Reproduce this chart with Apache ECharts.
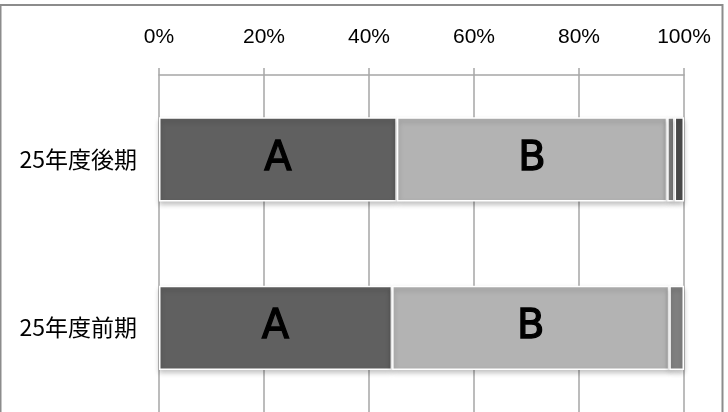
<!DOCTYPE html>
<html>
<head>
  <meta charset="utf-8" />
  <title>ECharts</title>
  <script src="https://cdn.jsdelivr.net/npm/echarts@6/dist/echarts.min.js"></script>
  <style>
    html, body { margin: 0; padding: 0; background: #fff; }
  </style>
</head>
<body>
<div id="main" style="width:728px;height:412px;"></div>
<script type="text/javascript">
  // カテゴリ（下から上へ）
  var categories = ['25年度前期', '25年度後期'];
  var tickValues = [0, 20, 40, 60, 80, 100];
  // 各区分の割合（%）
  var seriesNames = ['A', 'B', 'C', 'D'];
  var valuesA = [44.4, 45.3];
  var valuesB = [52.8, 51.5];
  var valuesC = [2.8, 1.4];
  var valuesD = [0, 1.8];
  var colors = ['#606060', '#b3b3b3', '#808080', '#4d4d4d'];

  var myChart = echarts.init(document.getElementById('main'));

  function makeSeries(name, values, color, showLabel) {
    return {
      name: name,
      type: 'bar',
      stack: 'total',
      barCategoryGap: '50%',
      data: values.map(function (v) { return v === 0 ? '-' : v; }),
      itemStyle: {
        color: color,
        borderColor: '#ffffff',
        borderWidth: 1.5,
        shadowBlur: 5,
        shadowOffsetY: 3,
        shadowColor: 'rgba(0,0,0,0.25)'
      },
      label: {
        show: showLabel,
        position: 'inside',
        formatter: name,
        color: '#000',
        fontFamily: 'DejaVu Sans',
        fontSize: 40,
        textBorderColor: '#000',
        textBorderWidth: 1.3
      },
      emphasis: { disabled: true }
    };
  }

  var option = {
    backgroundColor: '#ffffff',
    animation: false,
    grid: {
      left: 159,
      right: 44,
      top: 75,
      bottom: -1
    },
    xAxis: {
      type: 'value',
      position: 'top',
      min: tickValues[0],
      max: tickValues[tickValues.length - 1],
      interval: 20,
      axisLine: { show: true, lineStyle: { color: '#a6a6a6', width: 1.5 } },
      axisTick: { show: true, inside: false, length: 7, lineStyle: { color: '#a6a6a6', width: 1.5 } },
      splitLine: { show: true, lineStyle: { color: '#a6a6a6', width: 1.5 } },
      axisLabel: {
        formatter: '{value}%',
        margin: 27,
        color: '#000',
        fontFamily: 'Liberation Sans',
        fontSize: 21
      }
    },
    yAxis: {
      type: 'category',
      data: categories,
      axisLine: { show: false },
      axisTick: { show: false },
      axisLabel: {
        margin: 22,
        color: '#000',
        fontFamily: 'Noto Sans CJK JP',
        fontSize: 23
      }
    },
    graphic: [
      {
        type: 'rect',
        silent: true,
        shape: { x: 0.5, y: 5, width: 722, height: 420 },
        style: { fill: 'none', stroke: '#8c8c8c', lineWidth: 2 }
      }
    ],
    series: [
      makeSeries(seriesNames[0], valuesA, colors[0], true),
      makeSeries(seriesNames[1], valuesB, colors[1], true),
      makeSeries(seriesNames[2], valuesC, colors[2], false),
      makeSeries(seriesNames[3], valuesD, colors[3], false)
    ]
  };
  myChart.setOption(option);
</script>
</body>
</html>
